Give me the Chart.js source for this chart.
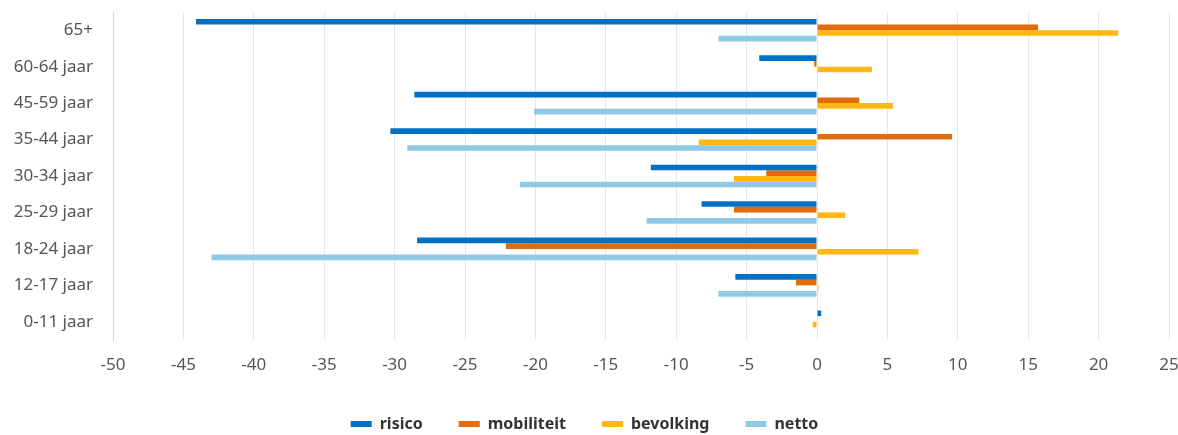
<!DOCTYPE html>
<html>
<head>
<meta charset="utf-8">
<script src="https://cdn.jsdelivr.net/npm/chart.js@4.4.0/dist/chart.umd.min.js"></script>
<style>
  html, body { margin: 0; padding: 0; background: #fff; }
  #wrap { width: 1178px; height: 435px; }
</style>
</head>
<body>
<div id="wrap"><canvas id="chart" width="1178" height="435"></canvas></div>
<script>
// leeftijdsgroepen, van boven naar beneden
const categories = ['65+', '60-64 jaar', '45-59 jaar', '35-44 jaar', '30-34 jaar', '25-29 jaar', '18-24 jaar', '12-17 jaar', '0-11 jaar'];

const risico      = [-44.1, -4.1, -28.6, -30.3, -11.8, -8.2, -28.4, -5.8,  0.3];
const mobiliteit  = [ 15.7, -0.2,   3.0,   9.6,  -3.6, -5.9, -22.1, -1.5,  0];
const bevolking   = [ 21.4,  3.9,   5.4,  -8.4,  -5.9,  2.0,   7.2,  0.1, -0.3];
const netto       = [ -7.0,  0,   -20.1, -29.1, -21.1, -12.1, -43.0, -7.0,  0];

const xMin = -50, xMax = 25, xStep = 5;

const FONT = "'Noto Sans', 'Open Sans', sans-serif";

// legenda iets lager zetten dan Chart.js standaard doet
const legendHeight = {
    id: 'legendHeight',
    afterInit: function (chart) {
        const fit = chart.legend.fit;
        chart.legend.fit = function () {
            fit.call(this);
            this.height = 55;
        };
    }
};

const ctx = document.getElementById('chart');
const myChart = new Chart(ctx, {
    type: 'bar',
    data: {
        labels: categories,
        datasets: [
            { label: 'risico', data: risico, backgroundColor: 'rgb(0,113,197)' },
            { label: 'mobiliteit', data: mobiliteit, backgroundColor: 'rgb(226,108,12)' },
            { label: 'bevolking', data: bevolking, backgroundColor: 'rgb(255,183,20)' },
            { label: 'netto', data: netto, backgroundColor: 'rgb(143,201,231)' }
        ]
    },
    plugins: [legendHeight],
    options: {
        indexAxis: 'y',
        responsive: false,
        animation: false,
        datasets: {
            bar: { categoryPercentage: 0.62, barPercentage: 1.0, borderWidth: 0 }
        },
        layout: { padding: { top: 12, right: 9, left: 0, bottom: 0 } },
        plugins: {
            tooltip: { enabled: false },
            legend: {
                position: 'bottom',
                labels: {
                    boxWidth: 21,
                    boxHeight: 6,
                    padding: 36,
                    color: '#333',
                    font: { family: FONT, size: 16, weight: 'bold' }
                }
            }
        },
        scales: {
            x: {
                min: xMin,
                max: xMax,
                ticks: {
                    stepSize: xStep,
                    color: '#555',
                    padding: 15,
                    font: { family: FONT, size: 17 }
                },
                grid: { color: '#e6e6e6', drawTicks: false, lineWidth: 1 },
                border: { display: false },
                afterFit: function (scale) {
                    scale.height = 40;
                    scale.paddingLeft = 0;
                    scale.paddingRight = 0;
                }
            },
            y: {
                ticks: {
                    color: '#555',
                    padding: 20,
                    font: { family: FONT, size: 17 }
                },
                grid: { display: false, drawTicks: false },
                border: { display: true, color: '#c5d8ee', width: 1 },
                afterFit: function (scale) {
                    scale.width = 113;
                    scale.paddingTop = 0;
                    scale.paddingBottom = 0;
                }
            }
        }
    }
});
</script>
</body>
</html>
